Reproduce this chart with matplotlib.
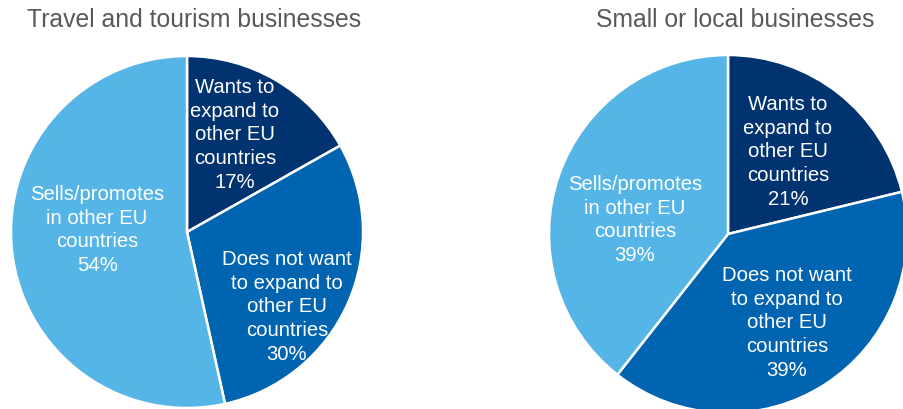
import matplotlib
matplotlib.use("Agg")
import matplotlib.pyplot as plt

plt.rcParams['font.family'] = ['Liberation Sans', 'DejaVu Sans']

categories = [
    "Wants to\nexpand to\nother EU\ncountries",
    "Does not want\nto expand to\nother EU\ncountries",
    "Sells/promotes\nin other EU\ncountries",
]
travel_values = [17, 30, 54]
local_values = [21, 39, 39]
titles = ["Travel and tourism businesses", "Small or local businesses"]

colors = ["#00336F", "#0064B1", "#55B5E6"]

W, H = 904, 410
fig = plt.figure(figsize=(W / 100, H / 100), dpi=100)

# pie axes: (center x, center y from top, radius) in pixels
pies = [
    (187, 233, 176, travel_values,
     [(0.273, 0.557), (0.568, -0.42), (-0.511, 0.017)], 194.5),
    (728, 235, 179, local_values,
     [(0.335, 0.464), (0.33, -0.49), (-0.52, 0.084)], 735.5),
]

for (cx, cy, r, values, label_pos, title_x), title in zip(pies, titles):
    ax = fig.add_axes([(cx - r) / W, (H - cy - r) / H, 2 * r / W, 2 * r / H])
    ax.pie(values, colors=colors, startangle=90, counterclock=False,
           radius=1, wedgeprops=dict(edgecolor="white", linewidth=1.8))
    ax.set_xlim(-1, 1)
    ax.set_ylim(-1, 1)
    ax.set_aspect("equal")
    ax.axis("off")
    for cat, v, (lx, ly) in zip(categories, values, label_pos):
        ax.text(lx, ly, f"{cat}\n{v}%", ha="center", va="center",
                color="white", fontsize=14.6, linespacing=1.31)
    fig.text(title_x / W, 1 - 27 / H, title, ha="center", va="baseline",
             color="#595959", fontsize=17.8)

fig.savefig("out.png", dpi=100)
